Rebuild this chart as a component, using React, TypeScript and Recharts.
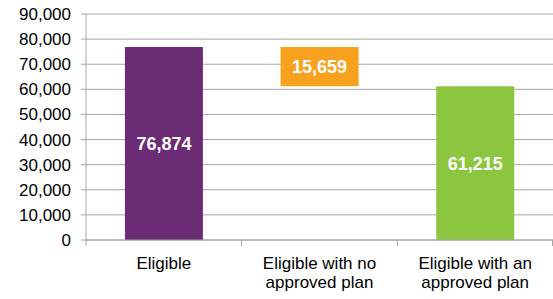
import { BarChart, Bar, XAxis, YAxis, CartesianGrid, LabelList, Cell } from 'recharts';

const CATEGORIES = ['Eligible', 'Eligible with no approved plan', 'Eligible with an approved plan'];
const TICK_LINES = [['Eligible'], ['Eligible with no', 'approved plan'], ['Eligible with an', 'approved plan']];
const BASES = [0, 61215, 0];
const VALUES = [76874, 15659, 61215];
const BAR_COLORS = ['#6B2C75', '#F7A11F', '#8CC63F'];
const Y_TICKS = [0, 10000, 20000, 30000, 40000, 50000, 60000, 70000, 80000, 90000];

const W = 553;
const H = 299;
const Y_W = 86;
const GRID = '#A6A6A6';
const FONT = '"Liberation Sans", Arial, sans-serif';

const data = CATEGORIES.map((c, i) => ({ name: c, base: BASES[i], value: VALUES[i] }));

const fmt = (v: number) => v.toLocaleString('en-US');

function XTick(props: any) {
  const { x, y, payload, index } = props;
  const band = (W - Y_W) / CATEGORIES.length;
  const lines = TICK_LINES[index] || [payload.value];
  const axisY = y - 8;
  return (
    <g>
      <line x1={x - band / 2} y1={axisY} x2={x - band / 2} y2={axisY + 6} stroke={GRID} />
      {index === CATEGORIES.length - 1 && (
        <line x1={x + band / 2 - 0.5} y1={axisY} x2={x + band / 2 - 0.5} y2={axisY + 6} stroke={GRID} />
      )}
      <text x={x} y={axisY + 29} textAnchor="middle" fill="#000" fontSize={17} fontFamily={FONT}>
        {lines.map((l: string, i: number) => (
          <tspan key={i} x={x} dy={i === 0 ? 0 : 19}>{l}</tspan>
        ))}
      </text>
    </g>
  );
}

export default function App() {
  return (
    <div style={{ position: 'absolute', left: 0, top: 0, background: '#fff' }}>
      <BarChart
        width={W}
        height={H}
        data={data}
        margin={{ top: 14, right: 0, bottom: 0, left: 0 }}
        barCategoryGap="25%"
      >
        <CartesianGrid vertical={false} stroke={GRID} />
        <XAxis
          dataKey="name"
          axisLine={{ stroke: GRID }}
          tickLine={false}
          tick={<XTick />}
          height={59}
          interval={0}
        />
        <YAxis
          width={Y_W}
          domain={[0, 90000]}
          ticks={Y_TICKS}
          tickFormatter={fmt}
          axisLine={{ stroke: GRID }}
          tickLine={{ stroke: GRID }}
          tickSize={5}
          tickMargin={10}
          tick={{ fill: '#000', fontSize: 17, fontFamily: FONT }}
          interval={0}
        />
        <Bar dataKey="base" stackId="a" fill="transparent" isAnimationActive={false} />
        <Bar dataKey="value" stackId="a" isAnimationActive={false}>
          {data.map((_, i) => (
            <Cell key={i} fill={BAR_COLORS[i]} />
          ))}
          <LabelList
            dataKey="value"
            position="center"
            formatter={(v: any) => fmt(Number(v))}
            fill="#fff"
            fontSize={18}
            fontWeight="bold"
            fontFamily={FONT}
          />
        </Bar>
      </BarChart>
    </div>
  );
}
